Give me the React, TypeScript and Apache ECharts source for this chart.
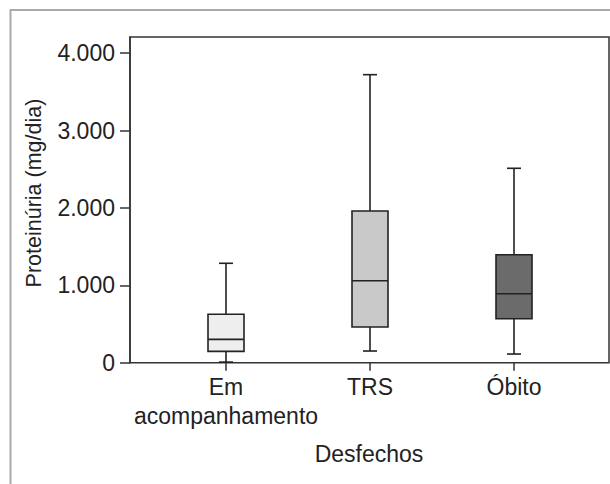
import React, { useEffect, useRef } from "react";
import * as echarts from "echarts";

// Data
const categories = ["Em\nacompanhamento", "TRS", "Óbito"];
const minValues = [8, 151, 112];
const q1Values = [147, 461, 569];
const medianValues = [302, 1060, 892];
const q3Values = [626, 1961, 1396];
const maxValues = [1285, 3723, 2513];
const yTicks = [0, 1000, 2000, 3000, 4000];
const yTitle = "Proteinúria (mg/dia)";
const xTitle = "Desfechos";

const boxFills = ["#eeeeee", "#c9c9c9", "#6b6b6b"];
const FONT = "'Liberation Sans', Arial, Helvetica, sans-serif";
const INK = "#222222";

function fmt(v: number): string {
  const s = String(Math.round(v));
  return s.replace(/\B(?=(\d{3})+(?!\d))/g, ".");
}

export default function App() {
  const ref = useRef<HTMLDivElement>(null);
  useEffect(() => {
    if (!ref.current) return;
    const chart = echarts.init(ref.current, null, { renderer: "svg" });
    const data = categories.map((_, i) => [
      i,
      minValues[i],
      q1Values[i],
      medianValues[i],
      q3Values[i],
      maxValues[i],
    ]);
    const boxW = 36;
    const capW = 14;
    const option: any = {
      animation: false,
      backgroundColor: "#ffffff",
      textStyle: { fontFamily: FONT },
      grid: [
        {
          left: 130,
          right: 1,
          top: 37,
          bottom: 121.3,
          show: true,
          borderColor: "#333333",
          borderWidth: 1.5,
          backgroundColor: "transparent",
          outerBoundsMode: "none",
        },
        {
          left: 154,
          right: 24,
          top: 37,
          bottom: 121.3,
          outerBoundsMode: "none",
        },
      ],
      xAxis: [
        { gridIndex: 0, type: "value", show: false, min: 0, max: 1 },
        {
          gridIndex: 1,
          type: "category",
          data: categories,
          axisLine: { show: false },
          axisTick: {
            show: true,
            alignWithLabel: true,
            length: 8,
            lineStyle: { color: "#333333", width: 1.5 },
          },
          axisLabel: {
            fontSize: 23,
            lineHeight: 29,
            margin: 10,
            color: INK,
            fontFamily: FONT,
            interval: 0,
          },
          splitLine: { show: false },
        },
      ],
      yAxis: [
        {
          gridIndex: 0,
          type: "value",
          min: 0,
          max: 4210,
          axisLine: { show: true, lineStyle: { color: "#333333", width: 1.5 } },
          axisTick: {
            show: true,
            length: 10,
            customValues: yTicks,
            lineStyle: { color: "#333333", width: 1.5 },
          },
          axisLabel: {
            customValues: yTicks,
            fontSize: 23,
            margin: 15,
            color: INK,
            fontFamily: FONT,
            formatter: (v: number) => fmt(v),
          },
          splitLine: { show: false },
        },
        { gridIndex: 1, type: "value", min: 0, max: 4210, show: false },
      ],
      series: [
        {
          type: "custom",
          xAxisIndex: 1,
          yAxisIndex: 1,
          data,
          encode: { x: 0, y: [1, 2, 3, 4, 5] },
          renderItem: (params: any, api: any) => {
            const idx = api.value(0);
            const x = api.coord([idx, 0])[0];
            const yMin = api.coord([idx, api.value(1)])[1];
            const yQ1 = api.coord([idx, api.value(2)])[1];
            const yMed = api.coord([idx, api.value(3)])[1];
            const yQ3 = api.coord([idx, api.value(4)])[1];
            const yMax = api.coord([idx, api.value(5)])[1];
            const stroke = { stroke: INK, lineWidth: 1.6 };
            return {
              type: "group",
              children: [
                { type: "line", shape: { x1: x, y1: yMax, x2: x, y2: yQ3 }, style: stroke },
                { type: "line", shape: { x1: x, y1: yQ1, x2: x, y2: yMin }, style: stroke },
                { type: "line", shape: { x1: x - capW / 2, y1: yMax, x2: x + capW / 2, y2: yMax }, style: stroke },
                { type: "line", shape: { x1: x - capW / 2, y1: yMin, x2: x + capW / 2, y2: yMin }, style: stroke },
                {
                  type: "rect",
                  shape: { x: x - boxW / 2, y: yQ3, width: boxW, height: yQ1 - yQ3 },
                  style: { fill: boxFills[params.dataIndex], stroke: INK, lineWidth: 1.6 },
                },
                { type: "line", shape: { x1: x - boxW / 2, y1: yMed, x2: x + boxW / 2, y2: yMed }, style: stroke },
              ],
            };
          },
        },
      ],
      graphic: [
        {
          type: "polyline",
          shape: { points: [[10.5, 484], [10.5, 10], [610, 10]] },
          style: { stroke: "#aaaaaa", lineWidth: 2, fill: "none" },
          z: 0,
        },
        {
          type: "text",
          x: 34,
          y: 193,
          rotation: Math.PI / 2,
          style: {
            text: yTitle,
            fontSize: 21.5,
            fontFamily: FONT,
            fill: INK,
            align: "center",
            verticalAlign: "middle",
          },
        },
        {
          type: "text",
          x: 369,
          y: 454,
          style: {
            text: xTitle,
            fontSize: 23,
            fontFamily: FONT,
            fill: INK,
            align: "center",
            verticalAlign: "middle",
          },
        },
      ],
    };
    chart.setOption(option);
    return () => chart.dispose();
  }, []);
  return (
    <div
      ref={ref}
      style={{ position: "fixed", left: 0, top: 0, width: 610, height: 484 }}
    />
  );
}
